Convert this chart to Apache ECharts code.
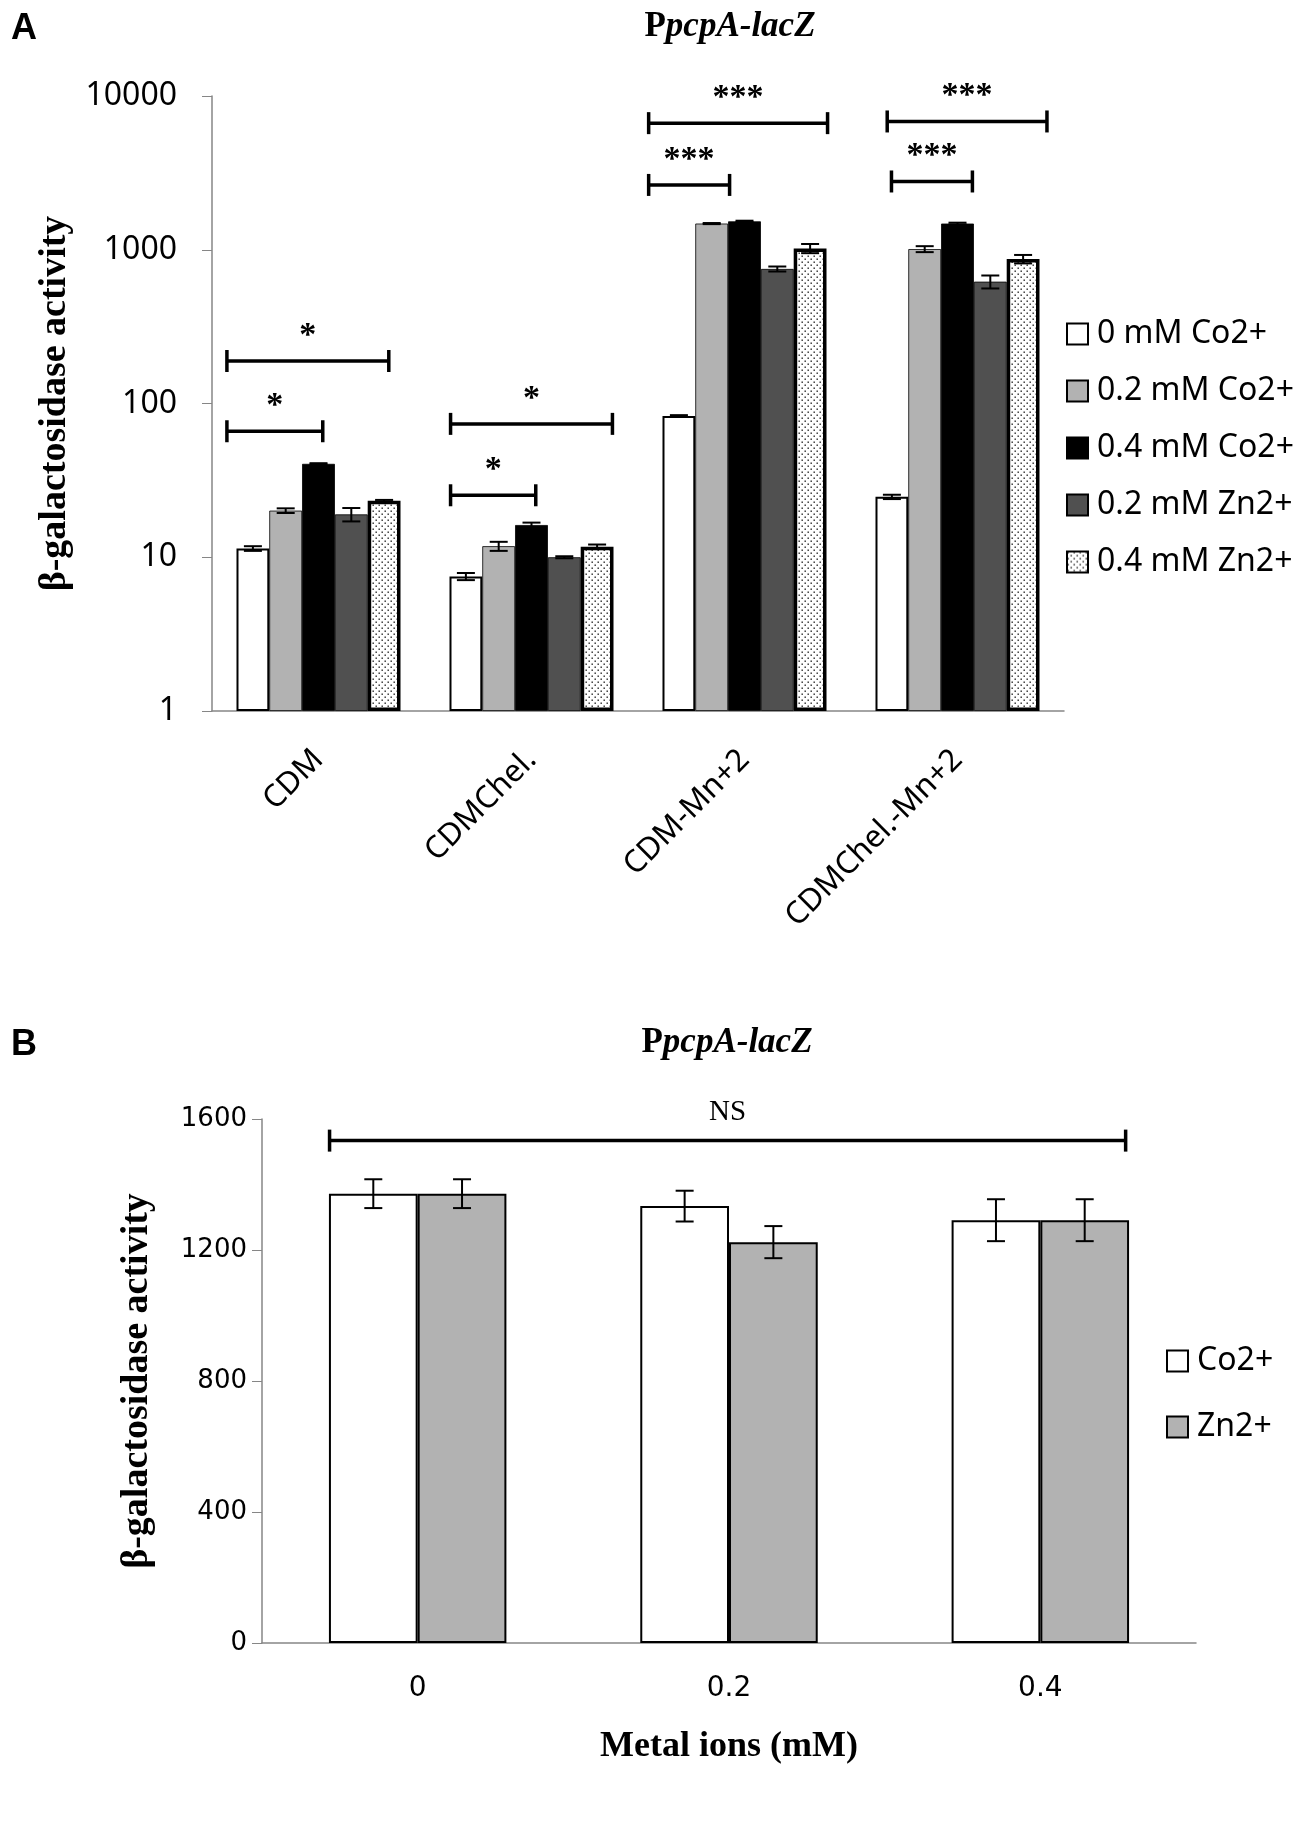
<!DOCTYPE html>
<html>
<head>
<meta charset="utf-8">
<script src="https://cdn.jsdelivr.net/npm/echarts@6/dist/echarts.min.js"></script>
<style>
html, body { margin: 0; background: #fff; }
#app { width: 1300px; height: 1822px; }
</style>
</head>
<body>
<div id="app"></div>
<script>
// ---- panel A (log scale) ----
var mediaA = ['CDM', 'CDMChel.', 'CDM-Mn+2', 'CDMChel.-Mn+2'];
var namesA = ['0 mM Co2+', '0.2 mM Co2+', '0.4 mM Co2+', '0.2 mM Zn2+', '0.4 mM Zn2+'];
var co0A = [11.4, 7.5, 83, 24.7];
var co02A = [20.1, 11.8, 1480, 1010];
var co04A = [40.5, 16.2, 1530, 1480];
var zn02A = [19.0, 10.0, 750, 620];
var zn04A = [23.3, 11.7, 1020, 870];
var errCo0A = [0.4, 0.4, 1, 0.8];
var errCo02A = [0.7, 0.8, 12, 45];
var errCo04A = [0.4, 0.6, 15, 20];
var errZn02A = [1.9, 0.15, 28, 60];
var errZn04A = [0.3, 0.4, 70, 55];
// significance brackets: [medium, from, to (in category widths), height, label]
var bracketsA = [
  [0, -0.43, 0.02, 66, '*'], [0, -0.43, 0.33, 189, '*'],
  [1, -0.38, 0.02, 25.3, '*'], [1, -0.38, 0.38, 73.7, '*'],
  [2, -0.45, -0.07, 2640, '***'], [2, -0.45, 0.39, 6660, '***'],
  [3, -0.31, 0.07, 2780, '***'], [3, -0.33, 0.42, 6830, '***']
];

// ---- panel B (linear) ----
var dosesB = ['0', '0.2', '0.4'];
var namesB = ['Co2+', 'Zn2+'];
var coB = [1372, 1334, 1291];
var znB = [1372, 1224, 1291];
var errCoB = [44, 47, 64];
var errZnB = [44, 49, 64];
var bracketsB = [[0, -0.283, 2.274, 1534, 'NS']];

var gapA = 0.23, gapB = 0.43;

// dotted fill for the last series
var dots = document.createElement('canvas');
dots.width = 6; dots.height = 6;
var dc = dots.getContext('2d');
dc.fillStyle = '#fff'; dc.fillRect(0, 0, 6, 6);
dc.fillStyle = '#222';
dc.fillRect(0.5, 0.5, 1.4, 1.4);
dc.fillRect(3.5, 3.5, 1.4, 1.4);

var fillsA = ['#ffffff', '#b2b2b2', '#000000', '#505050', { image: dots, repeat: 'repeat' }];
var bordersA = [2, 0.8, 0.8, 0.8, 3.5];
var valsA = [co0A, co02A, co04A, zn02A, zn04A];
var errsA = [errCo0A, errCo02A, errCo04A, errZn02A, errZn04A];

function errRows(vals, errs) {
  var rows = [];
  vals.forEach(function (v, s) {
    v.forEach(function (val, c) { rows.push([c, s, val, errs[s][c]]); });
  });
  return rows;
}

function errorBars(nBars, gap, cap) {
  return function (params, api) {
    var c = api.value(0), s = api.value(1), v = api.value(2), e = api.value(3);
    var p = api.coord([c, v]);
    var band = api.coord([1, v])[0] - api.coord([0, v])[0];
    var bw = band * (1 - gap) / nBars;
    var x = p[0] - band * (1 - gap) / 2 + (s + 0.5) * bw;
    var hi = api.coord([c, v + e])[1], lo = api.coord([c, v - e])[1];
    var st = { stroke: '#000', lineWidth: 2 };
    return { type: 'group', children: [
      { type: 'line', shape: { x1: x, y1: hi, x2: x, y2: lo }, style: st },
      { type: 'line', shape: { x1: x - cap, y1: hi, x2: x + cap, y2: hi }, style: st },
      { type: 'line', shape: { x1: x - cap, y1: lo, x2: x + cap, y2: lo }, style: st }
    ]};
  };
}

function brackets(font, lift) {
  return function (params, api) {
    var c = api.value(0), v = api.value(3);
    var p = api.coord([c, v]);
    var band = api.coord([1, v])[0] - api.coord([0, v])[0];
    var x1 = p[0] + api.value(1) * band, x2 = p[0] + api.value(2) * band, y = p[1];
    var st = { stroke: '#000', lineWidth: 3.5 };
    return { type: 'group', children: [
      { type: 'line', shape: { x1: x1, y1: y, x2: x2, y2: y }, style: st },
      { type: 'line', shape: { x1: x1, y1: y - 11, x2: x1, y2: y + 11 }, style: st },
      { type: 'line', shape: { x1: x2, y1: y - 11, x2: x2, y2: y + 11 }, style: st },
      { type: 'text', x: (x1 + x2) / 2, y: y - lift, style: {
        text: bracketText[params.seriesIndex][params.dataIndex], font: font, fill: '#000',
        align: 'center', verticalAlign: 'bottom' } }
    ]};
  };
}

var axisGray = { lineStyle: { color: '#868686', width: 1.5 } };
var sans = 'Noto Sans';
var serif = 'Liberation Serif';

var series = [];
namesA.forEach(function (n, i) {
  series.push({
    name: n, type: 'bar', xAxisIndex: 0, yAxisIndex: 0,
    data: valsA[i], barGap: 0, barCategoryGap: (gapA * 100) + '%',
    itemStyle: { color: fillsA[i], borderColor: '#000', borderWidth: bordersA[i] }
  });
});
series.push({
  type: 'custom', xAxisIndex: 0, yAxisIndex: 0, z: 5,
  renderItem: errorBars(5, gapA, 9), encode: { x: 0, y: 2 },
  data: errRows(valsA, errsA)
});
series.push({
  type: 'custom', xAxisIndex: 0, yAxisIndex: 0, z: 5,
  renderItem: brackets('bold 34px ' + serif, 8), encode: { x: 0, y: 3 },
  data: bracketsA.map(function (b) { return b.slice(0, 4); })
});
var valsB = [coB, znB], errsB = [errCoB, errZnB], fillsB = ['#ffffff', '#b2b2b2'];
namesB.forEach(function (n, i) {
  series.push({
    name: n, type: 'bar', xAxisIndex: 1, yAxisIndex: 1,
    data: valsB[i], barGap: 0, barCategoryGap: (gapB * 100) + '%',
    itemStyle: { color: fillsB[i], borderColor: '#000', borderWidth: 2 }
  });
});
series.push({
  type: 'custom', xAxisIndex: 1, yAxisIndex: 1, z: 5,
  renderItem: errorBars(2, gapB, 9), encode: { x: 0, y: 2 },
  data: errRows(valsB, errsB)
});
series.push({
  type: 'custom', xAxisIndex: 1, yAxisIndex: 1, z: 5,
  renderItem: brackets('29px ' + serif, 14), encode: { x: 0, y: 3 },
  data: bracketsB.map(function (b) { return b.slice(0, 4); })
});

var bracketText = [];
bracketText[6] = bracketsA.map(function (b) { return b[4]; });
bracketText[10] = bracketsB.map(function (b) { return b[4]; });

var titleRich = {
  a: { fontFamily: serif, fontWeight: 'bold', fontSize: 35, color: '#000' },
  b: { fontFamily: serif, fontWeight: 'bold', fontStyle: 'italic', fontSize: 35, color: '#000' }
};
var letterStyle = { fontFamily: 'Liberation Sans', fontWeight: 'bold', fontSize: 36, color: '#000' };

var chart = echarts.init(document.getElementById('app'), null, { renderer: 'canvas' });
chart.setOption({
  animation: false,
  backgroundColor: '#fff',
  title: [
    { text: 'A', left: 6, top: 6, textStyle: letterStyle },
    { text: '{a|P}{b|pcpA-lacZ}', left: 725, top: 4, textAlign: 'center', textStyle: { rich: titleRich } },
    { text: 'B', left: 6, top: 1022, textStyle: letterStyle },
    { text: '{a|P}{b|pcpA-lacZ}', left: 722, top: 1020, textAlign: 'center', textStyle: { rich: titleRich } }
  ],
  legend: [
    { data: namesA, orient: 'vertical', left: 1061, top: 313, itemWidth: 21, itemHeight: 21, itemGap: 25,
      icon: 'rect', textStyle: { fontFamily: sans, fontSize: 32, color: '#000', padding: [0, 0, 0, 4] } },
    { data: namesB, orient: 'vertical', left: 1161, top: 1340, itemWidth: 21, itemHeight: 21, itemGap: 34,
      icon: 'rect', textStyle: { fontFamily: sans, fontSize: 32, color: '#000', padding: [0, 0, 0, 4] } }
  ],
  grid: [
    { left: 212, top: 96, width: 852, height: 615 },
    { left: 262, top: 1119, width: 934, height: 524 }
  ],
  xAxis: [
    { type: 'category', gridIndex: 0, data: mediaA, axisLine: axisGray,
      axisTick: { length: 10, lineStyle: { color: '#868686' } },
      axisLabel: { rotate: 45, margin: 44, fontFamily: sans, fontSize: 31, color: '#000' } },
    { type: 'category', gridIndex: 1, data: dosesB, axisLine: axisGray,
      axisTick: { length: 10, lineStyle: { color: '#868686' } },
      axisLabel: { margin: 32, fontFamily: 'DejaVu Sans', fontSize: 28, color: '#000' },
      name: 'Metal ions (mM)', nameLocation: 'middle', nameGap: 86,
      nameTextStyle: { fontFamily: serif, fontWeight: 'bold', fontSize: 36, color: '#000' } }
  ],
  yAxis: [
    { type: 'log', gridIndex: 0, logBase: 10, min: 1, max: 10000,
      axisLine: { show: true, lineStyle: { color: '#868686', width: 1.5 } },
      axisTick: { show: true, length: 10, lineStyle: { color: '#868686' } },
      splitLine: { show: false },
      axisLabel: { margin: 35, fontFamily: sans, fontSize: 32, color: '#000',
        formatter: function (v) { return String(Math.round(v)); } },
      name: 'β-galactosidase activity', nameLocation: 'middle', nameGap: 135,
      nameTextStyle: { fontFamily: serif, fontWeight: 'bold', fontSize: 38, color: '#000' } },
    { type: 'value', gridIndex: 1, min: 0, max: 1600, interval: 400,
      axisLine: { show: true, lineStyle: { color: '#868686', width: 1.5 } },
      axisTick: { show: true, length: 10, lineStyle: { color: '#868686' } },
      splitLine: { show: false },
      axisLabel: { margin: 15, fontFamily: 'DejaVu Sans', fontSize: 26, color: '#000',
        formatter: function (v) { return String(v); } },
      name: 'β-galactosidase activity', nameLocation: 'middle', nameGap: 106,
      nameTextStyle: { fontFamily: serif, fontWeight: 'bold', fontSize: 38, color: '#000' } }
  ],
  series: series
});
</script>
</body>
</html>
